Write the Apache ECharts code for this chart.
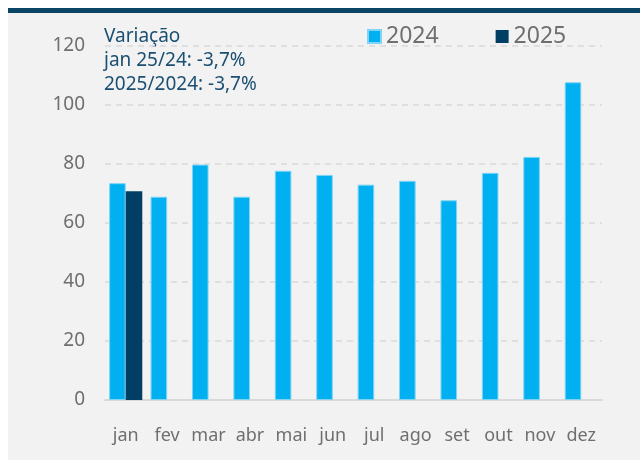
<!DOCTYPE html>
<html>
<head>
<meta charset="utf-8">
<script src="https://cdn.jsdelivr.net/npm/echarts@6/dist/echarts.min.js"></script>
<style>
  html, body { margin: 0; padding: 0; background: #ffffff; }
  #chart { width: 640px; height: 460px; }
</style>
</head>
<body>
<div id="chart"></div>
<script>
const months = ['jan', 'fev', 'mar', 'abr', 'mai', 'jun', 'jul', 'ago', 'set', 'out', 'nov', 'dez'];
const values2024 = [73.5, 68.9, 79.8, 68.9, 77.7, 76.3, 73.0, 74.3, 67.7, 77.0, 82.4, 107.7];
const values2025 = [70.8, null, null, null, null, null, null, null, null, null, null, null];
const yTicks = { min: 0, max: 120, interval: 20 };
const noteLines = ['Variação', 'jan 25/24: -3,7%', '2025/2024: -3,7%'];

const font = '"Noto Sans", sans-serif';
const gray = '#6f6f6f';

const chart = echarts.init(document.getElementById('chart'));

chart.setOption({
  backgroundColor: '#ffffff',
  animation: false,
  textStyle: { fontFamily: font },
  graphic: [
    { type: 'rect', left: 8, top: 13, z: -10, shape: { width: 632, height: 447 }, style: { fill: '#f2f2f2' } },
    { type: 'rect', left: 8, top: 8, z: -10, shape: { width: 632, height: 5 }, style: { fill: '#0b4566' } },
    {
      type: 'text',
      left: 104,
      top: 25,
      style: {
        text: noteLines.join('\n'),
        fill: '#1b4f72',
        font: '19px ' + font,
        lineHeight: 24,
      },
    },
  ],
  legend: {
    left: 362,
    top: 20,
    itemWidth: 13,
    itemHeight: 13,
    itemGap: 57,
    icon: 'rect',
    textStyle: { color: gray, fontSize: 23, fontFamily: font },
    data: ['2024', '2025'],
  },
  grid: { left: 105, right: 38, top: 46, bottom: 60 },
  xAxis: {
    type: 'category',
    data: months,
    axisLine: { lineStyle: { color: '#d9d9d9', width: 2 } },
    axisTick: { show: false },
    axisLabel: { color: gray, fontSize: 18, margin: 27, interval: 0 },
  },
  yAxis: {
    type: 'value',
    min: yTicks.min,
    max: yTicks.max,
    interval: yTicks.interval,
    axisLine: { show: false },
    axisTick: { show: false },
    axisLabel: { color: gray, fontSize: 19, margin: 20 },
    splitLine: { lineStyle: { color: '#d9d9d9', type: [6, 5], width: 1.5 } },
  },
  series: [
    {
      name: '2024',
      type: 'bar',
      data: values2024,
      barGap: '0%',
      barCategoryGap: '20%',
      itemStyle: { color: '#00b0f0', borderColor: '#7fd3f3', borderWidth: 1 },
    },
    {
      name: '2025',
      type: 'bar',
      data: values2025,
      itemStyle: { color: '#003f63' },
    },
  ],
});
</script>
</body>
</html>
